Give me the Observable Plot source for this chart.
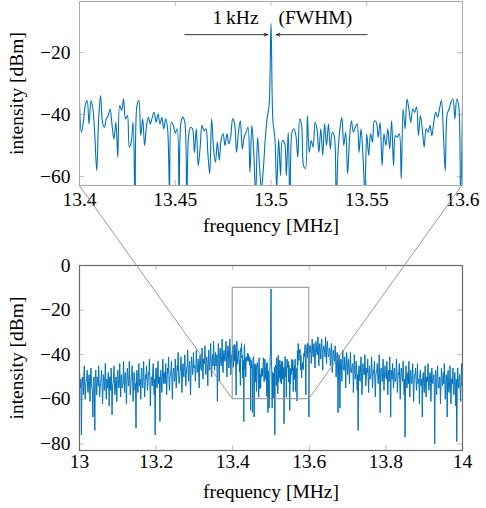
<!DOCTYPE html>
<html>
<head>
<meta charset="utf-8">
<script src="https://cdn.jsdelivr.net/npm/d3@7"></script>
<script src="https://cdn.jsdelivr.net/npm/@observablehq/plot@0.6"></script>
<style>
  html, body { margin: 0; padding: 0; background: #fff; }
  #chart { position: relative; width: 486px; height: 508px; overflow: hidden; }
  #chart > svg { position: absolute; left: 0; }
</style>
</head>
<body>
<div id="chart"></div>
<script>
// ---- spectrum data (intensity in dBm) ----
// zoomed band 13.400 ... 13.600 MHz, 1 kHz spacing
const zoomStart = 13.4;
const zoomStep = 0.001;
const zoomDbm = [
  -36, -45.7, -42.5, -37.1, -35.5, -43, -35.5, -38.2, -46.8, -58.1,
  -41.4, -33.9, -42.5, -44.1, -41.4, -40.3, -38.2, -43.5, -47.9, -42.5,
  -53.8, -37.1, -38.7, -35, -41.4, -40.3, -50.5, -48.9, -42.5, -70,
  -37.1, -35.5, -46.8, -41.4, -50, -43.5, -40.9, -43, -40.9, -39.3,
  -42.5, -39.8, -43, -40.9, -44.6, -41.4, -44.6, -65, -42.5, -43.5,
  -46, -44.6, -66, -42.5, -40.9, -42.5, -68, -46.8, -44.1, -44.6,
  -52.2, -44.6, -56.5, -50.5, -43.5, -45.2, -44.6, -52.2, -59.1, -41.4,
  -51.1, -55.4, -48.9, -54.8, -47.9, -46.2, -50, -46.2, -49.5, -46.8,
  -41.4, -43, -52.2, -45.7, -42, -51.1, -47.3, -45.7, -44.1, -58.6,
  -43.5, -52.2, -66, -47.3, -56.5, -64, -57.5, -47.9, -41, -37,
  -10.5, -42, -47.3, -64, -47.9, -59.7, -48.4, -49, -59.7, -45.7,
  -76, -45.7, -44.6, -46.8, -53.8, -41.4, -43.5, -56.5, -57.5, -40.3,
  -52.2, -48.4, -50.5, -42.5, -44.6, -52.2, -44.6, -53.2, -43, -50,
  -43, -51.1, -45.7, -46.8, -71, -52.2, -44.6, -40.9, -50, -45.7,
  -59.1, -47.9, -42, -45.7, -44.1, -43, -52.2, -44.6, -53.2, -65,
  -46.2, -53.2, -46.2, -48.9, -42, -42.5, -47.3, -42.5, -56.5, -46.2,
  -50, -44.6, -51.1, -42, -56.5, -46.8, -47.3, -46.2, -60.8, -38.2,
  -44.6, -35, -38.2, -42.5, -38.2, -39.3, -37.6, -46.8, -40.3, -44.6,
  -50.5, -44.6, -45.7, -43.5, -46.8, -42.5, -39.3, -40.9, -38.2, -35.5,
  -45.7, -58.1, -39.8, -38.2, -36, -35, -41.4, -35, -37.1, -68,
  -36
];

// outer bands, 1.25 kHz spacing, stored as two interleaved 2.5 kHz grids
const sideStep = 0.0025;
const lowStart = 13.0;        // 13.0000 ... 13.3975 MHz
const lowDbm = [
  -48, -55, -76, -50, -58, -45, -60, -52, -47, -57,
  -49, -61, -46, -55, -68, -50, -74, -47, -58, -51,
  -45, -59, -53, -47, -62, -49, -56, -44, -60, -52,
  -48, -63, -50, -46, -67, -53, -45, -58, -50, -61,
  -47, -55, -44, -59, -49, -53, -43, -57, -48, -62,
  -46, -54, -43, -58, -50, -45, -61, -48, -56, -73,
  -47, -57, -44, -52, -60, -46, -55, -43, -59, -49,
  -45, -56, -48, -42, -63, -50, -54, -44, -58, -76,
  -46, -55, -43, -51, -70, -47, -57, -42, -53, -48,
  -44, -58, -46, -41, -56, -49, -43, -60, -47, -52,
  -42, -55, -45, -39, -53, -48, -41, -57, -44, -50,
  -40, -54, -46, -38, -52, -43, -58, -41, -49, -39,
  -45, -52, -38, -48, -42, -55, -40, -47, -37, -51,
  -43, -36, -49, -41, -54, -38, -46, -35, -50, -40,
  -34, -47, -39, -44, -61, -35, -52, -37, -45, -33,
  -48, -38, -43, -34, -50, -36, -46, -33, -49, -40
];
const lowMidStart = 13.00125;  // 13.00125 ... 13.39875 MHz
const lowMidDbm = [
  -53, -51, -55, -52, -50, -54, -53, -51, -56, -52,
  -54, -50, -53, -56, -52, -55, -51, -53, -50, -54,
  -52, -55, -51, -53, -57, -50, -52, -54, -51, -55,
  -53, -50, -56, -52, -54, -51, -53, -55, -52, -50,
  -51, -54, -52, -50, -55, -53, -51, -49, -54, -52,
  -50, -53, -51, -55, -49, -52, -54, -50, -53, -51,
  -52, -50, -54, -51, -49, -53, -50, -52, -55, -51,
  -50, -53, -49, -52, -54, -50, -48, -53, -51, -49,
  -51, -49, -53, -50, -48, -52, -50, -47, -51, -53,
  -49, -51, -48, -52, -50, -47, -51, -49, -46, -50,
  -48, -50, -47, -49, -51, -46, -48, -50, -47, -45,
  -47, -49, -45, -48, -46, -50, -47, -44, -48, -46,
  -45, -47, -44, -46, -48, -43, -45, -47, -44, -42,
  -44, -46, -42, -45, -43, -47, -41, -44, -42, -45,
  -41, -43, -45, -40, -44, -42, -39, -43, -41, -44,
  -40, -42, -39, -43, -41, -38, -42, -40, -44, -41
];
const highStart = 13.6025;    // 13.6025 ... 14.0000 MHz
const highDbm = [
  -36, -44, -33, -41, -35, -46, -34, -40, -32, -45,
  -35, -42, -33, -47, -36, -39, -32, -44, -34, -41,
  -37, -45, -35, -48, -38, -43, -36, -50, -39, -66,
  -40, -64, -42, -52, -38, -47, -41, -55, -39, -49,
  -42, -53, -39, -48, -44, -57, -40, -51, -43, -56,
  -74, -45, -52, -41, -58, -44, -49, -40, -54, -46,
  -42, -57, -45, -50, -41, -55, -47, -43, -59, -48,
  -44, -53, -40, -66, -46, -52, -42, -56, -45, -50,
  -43, -58, -47, -41, -68, -49, -44, -55, -46, -52,
  -42, -57, -48, -44, -60, -46, -51, -43, -58, -77,
  -45, -55, -48, -43, -59, -47, -53, -44, -61, -49,
  -46, -56, -44, -52, -62, -47, -54, -68, -48, -57,
  -45, -59, -50, -44, -56, -48, -61, -46, -53, -49,
  -80, -47, -58, -45, -55, -50, -62, -46, -54, -48,
  -44, -60, -49, -68, -47, -57, -45, -62, -51, -46,
  -58, -48, -63, -79, -46, -55, -49, -61, -44, -52
];
const highMidStart = 13.60125; // 13.60125 ... 13.99875 MHz
const highMidDbm = [
  -39, -37, -40, -38, -36, -41, -39, -37, -40, -38,
  -37, -39, -36, -40, -38, -37, -41, -38, -36, -39,
  -40, -38, -41, -39, -42, -40, -43, -41, -44, -42,
  -45, -43, -46, -44, -42, -45, -47, -44, -46, -43,
  -45, -47, -44, -48, -46, -45, -49, -46, -48, -47,
  -49, -47, -50, -46, -48, -51, -47, -49, -46, -50,
  -48, -50, -47, -51, -49, -46, -50, -48, -52, -49,
  -47, -50, -48, -51, -49, -47, -52, -48, -50, -49,
  -51, -48, -50, -52, -49, -47, -51, -50, -48, -52,
  -50, -48, -51, -49, -53, -50, -48, -52, -49, -51,
  -52, -49, -51, -53, -50, -48, -52, -50, -54, -51,
  -49, -52, -50, -53, -51, -49, -54, -51, -50, -53,
  -51, -53, -50, -52, -55, -51, -49, -53, -52, -50,
  -54, -51, -53, -50, -52, -55, -51, -53, -50, -52,
  -53, -51, -54, -52, -50, -55, -52, -54, -51, -53,
  -55, -52, -54, -51, -56, -53, -51, -55, -52, -54
];

// axes
const topFreqTicks = [13.4, 13.45, 13.5, 13.55, 13.6];
const topDbmTicks = [-60, -40, -20];
const fullFreqTicks = [13, 13.2, 13.4, 13.6, 13.8, 14];
const fullDbmTicks = [-80, -60, -40, -20, 0];
const xTitle = "frequency [MHz]";
const yTitle = "intensity [dBm]";

// zoom window on the full spectrum and the FWHM annotation
const zoomWindow = {f1: 13.4, f2: 13.6, lo: -60, hi: -10};
const fwhmArrows = [{from: 13.455, to: 13.4982}, {from: 13.5502, to: 13.5028}];
const arrowLevel = -14.2;
const fwhmLabels = [
  {text: "1\u2009kHz", f: 13.4935, anchor: "end"},
  {text: "(FWHM)", f: 13.5039, anchor: "start"}
];
const labelLevel = -8.7;

// ---- rows ----
const toRows = (start, step, values) => values.map((dbm, i) => ({f: +(start + i * step).toFixed(5), dbm}));
const zoomRows = toRows(zoomStart, zoomStep, zoomDbm);
const fullRows = [
  ...toRows(lowStart, sideStep, lowDbm),
  ...toRows(lowMidStart, sideStep, lowMidDbm),
  ...zoomRows,
  ...toRows(highStart, sideStep, highDbm),
  ...toRows(highMidStart, sideStep, highMidDbm)
].sort((a, b) => a.f - b.f);

// ---- styling ----
const blue = "#0072bd";
const tickGray = "#bdbdbd";
const style = {fontFamily: '"Liberation Serif", serif', fontSize: "19.5px", color: "#000", background: "transparent", overflow: "visible"};
const minus = d => d < 0 ? "\u2212" + Math.abs(d) : String(d);
const W = 486, ML = 79, MR = 24;

// small inward ticks on all four sides of a frame
function frameTicks(xs, ys, fw, fh) {
  return [
    Plot.tickX(xs, {x: d => d, stroke: tickGray, insetTop: fh - 5}),
    Plot.tickX(xs, {x: d => d, stroke: tickGray, insetBottom: fh - 5}),
    Plot.tickY(ys, {y: d => d, stroke: tickGray, insetRight: fw - 5}),
    Plot.tickY(ys, {y: d => d, stroke: tickGray, insetLeft: fw - 5})
  ];
}

const container = document.getElementById("chart");

// ---- zoomed panel ----
const topH = 245, topMT = 1, topMB = 60;
const topPanel = Plot.plot({
  width: W, height: topH, marginLeft: ML, marginRight: MR, marginTop: topMT, marginBottom: topMB,
  style,
  x: {domain: [13.4, 13.6]},
  y: {domain: [-62.9, -3.5]},
  marks: [
    ...frameTicks(topFreqTicks, topDbmTicks, W - ML - MR, topH - topMT - topMB),
    Plot.line(zoomRows, {x: "f", y: "dbm", stroke: blue, strokeWidth: 1.1, curve: "catmull-rom", clip: true}),
    Plot.frame({stroke: "#ababab"}),
    Plot.axisX({ticks: topFreqTicks, tickSize: 0, tickPadding: 7, tickFormat: String, label: null}),
    Plot.axisY({ticks: topDbmTicks, tickSize: 0, tickPadding: 9, tickFormat: minus, label: null}),
    Plot.text([xTitle], {text: d => d, frameAnchor: "bottom", lineAnchor: "middle", dy: 40}),
    Plot.text([yTitle], {text: d => d, frameAnchor: "left", textAnchor: "middle", lineAnchor: "middle", dx: -63, rotate: -90}),
    Plot.arrow(fwhmArrows, {x1: "from", x2: "to", y1: () => arrowLevel, y2: () => arrowLevel,
      stroke: "#000", strokeWidth: 0.8, headLength: 7, headAngle: 45}),
    Plot.text(fwhmLabels.filter(d => d.anchor === "end"), {x: "f", y: () => labelLevel, text: "text", textAnchor: "end"}),
    Plot.text(fwhmLabels.filter(d => d.anchor === "start"), {x: "f", y: () => labelLevel, text: "text", textAnchor: "start"})
  ]
});
topPanel.style.top = "0px";
container.appendChild(topPanel);

// ---- full spectrum ----
const botTop = 250, botH = 258, botMT = 15, botMB = 58;
const fullPanel = Plot.plot({
  width: W, height: botH, marginLeft: ML, marginRight: MR, marginTop: botMT, marginBottom: botMB,
  style,
  x: {domain: [13, 14]},
  y: {domain: [-83, 0]},
  marks: [
    ...frameTicks(fullFreqTicks, fullDbmTicks, W - ML - MR, botH - botMT - botMB),
    Plot.line(fullRows, {x: "f", y: "dbm", stroke: blue, strokeWidth: 1}),
    Plot.rect([zoomWindow], {x1: "f1", x2: "f2", y1: "lo", y2: "hi", fill: "none", stroke: "#8c8c8c", strokeWidth: 1}),
    Plot.frame({stroke: "#6a6a6a", strokeWidth: 1.2}),
    Plot.axisX({ticks: fullFreqTicks, tickSize: 0, tickPadding: 4, tickFormat: String, label: null}),
    Plot.axisY({ticks: fullDbmTicks, tickSize: 0, tickPadding: 9, tickFormat: minus, label: null}),
    Plot.text([xTitle], {text: d => d, frameAnchor: "bottom", lineAnchor: "middle", dy: 41}),
    Plot.text([yTitle], {text: d => d, frameAnchor: "left", textAnchor: "middle", lineAnchor: "middle", dx: -63, rotate: -90})
  ]
});
fullPanel.style.top = botTop + "px";
container.appendChild(fullPanel);

// ---- connector lines from the zoom window to the zoomed panel ----
const xt = topPanel.scale("x"), yt = topPanel.scale("y");
const xb = fullPanel.scale("x"), yb = fullPanel.scale("y");
const overlay = d3.select(container).append("svg")
  .attr("width", W).attr("height", 508)
  .style("top", "0px").style("pointer-events", "none");
overlay.selectAll("line")
  .data([zoomWindow.f1, zoomWindow.f2])
  .join("line")
  .attr("x1", f => xb.apply(f))
  .attr("y1", botTop + yb.apply(zoomWindow.lo))
  .attr("x2", f => xt.apply(f))
  .attr("y2", yt.apply(yt.domain[0]))
  .attr("stroke", "#8c8c8c")
  .attr("stroke-width", 0.9);
</script>
</body>
</html>
